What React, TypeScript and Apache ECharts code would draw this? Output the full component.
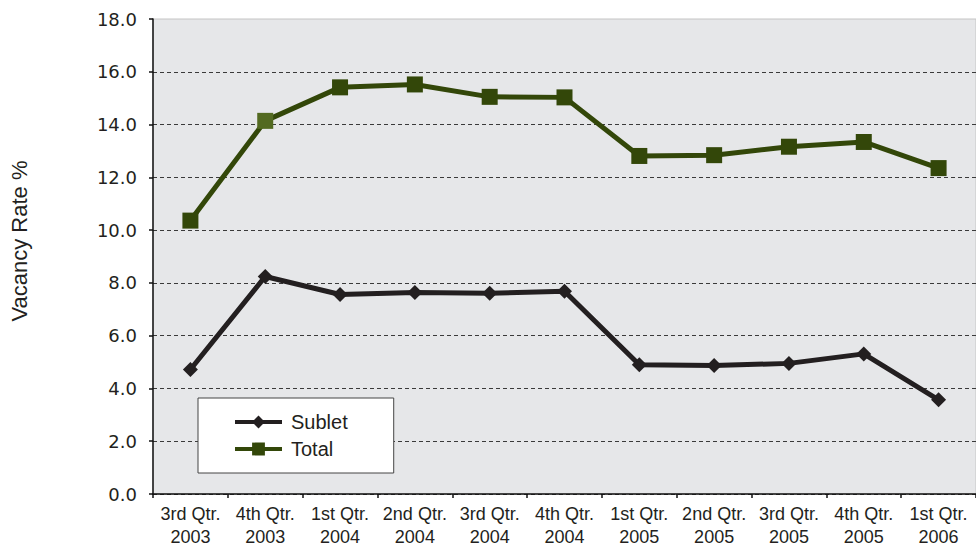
import React, { useEffect, useRef } from "react";
import * as echarts from "echarts";

const categories = [
  "3rd Qtr.\n2003", "4th Qtr.\n2003", "1st Qtr.\n2004", "2nd Qtr.\n2004",
  "3rd Qtr.\n2004", "4th Qtr.\n2004", "1st Qtr.\n2005", "2nd Qtr.\n2005",
  "3rd Qtr.\n2005", "4th Qtr.\n2005", "1st Qtr.\n2006",
];
const subletValues = [4.72, 8.24, 7.56, 7.64, 7.61, 7.68, 4.9, 4.87, 4.95, 5.31, 3.57];
const totalValues = [10.36, 14.14, 15.41, 15.52, 15.05, 15.03, 12.81, 12.84, 13.16, 13.34, 12.35];
const highlightIndex = 1;

export default function App() {
  const ref = useRef<HTMLDivElement>(null);
  useEffect(() => {
    const chart = echarts.init(ref.current!, null, { renderer: "svg" });
    const gridColors = ["#3a3a3a", "#3a3a3a", "#3a3a3a", "#3a3a3a", "#3a3a3a", "#3a3a3a", "#3a3a3a", "#3a3a3a", "#3a3a3a", "transparent"];
    chart.setOption({
      animation: false,
      backgroundColor: "#ffffff",
      grid: {
        left: 153,
        top: 19,
        width: 825,
        height: 475,
        show: true,
        backgroundColor: "#e6e7e9",
        borderWidth: 1,
        borderColor: "#c4c4c4",
      },
      legend: {
        orient: "vertical",
        left: 198,
        top: 398,
        padding: [14, 46, 14, 35],
        backgroundColor: "#ffffff",
        borderColor: "#444444",
        borderWidth: 1,
        itemWidth: 47,
        itemHeight: 16,
        itemGap: 7,
        lineStyle: { width: 4 },
        textStyle: { fontFamily: "Liberation Sans", fontSize: 20, color: "#231f20", lineHeight: 18, padding: [0, 0, 0, 4] },
        data: ["Sublet", "Total"],
      },
      xAxis: {
        type: "category",
        data: categories,
        boundaryGap: true,
        axisLine: { lineStyle: { color: "#111111", width: 1.5 } },
        axisTick: { show: true, length: 4, lineStyle: { color: "#111111", width: 1.5 } },
        axisLabel: {
          fontFamily: "Liberation Sans",
          fontSize: 18,
          color: "#231f20",
          lineHeight: 23,
          margin: 8,
          interval: 0,
        },
        splitLine: { show: false },
      },
      yAxis: {
        type: "value",
        min: 0,
        max: 18,
        interval: 2,
        axisLine: { show: true, lineStyle: { color: "#111111", width: 1.5 } },
        axisTick: { show: true, length: 4, lineStyle: { color: "#111111", width: 1.5 } },
        axisLabel: {
          fontFamily: "DejaVu Sans",
          fontSize: 18,
          color: "#231f20",
          margin: 16,
          formatter: (v: number) => v.toFixed(1),
        },
        splitLine: {
          show: true,
          lineStyle: { color: gridColors, type: [4, 3], width: 1 },
        },
      },
      graphic: [
        {
          type: "text",
          x: 19,
          y: 241,
          rotation: Math.PI / 2,
          style: {
            text: "Vacancy Rate %",
            fontFamily: "Liberation Sans",
            fontSize: 22,
            fill: "#231f20",
            textAlign: "center",
            textVerticalAlign: "middle",
          },
        },
      ],
      series: [
        {
          name: "Sublet",
          type: "line",
          data: subletValues,
          symbol: "diamond",
          symbolSize: 15,
          lineStyle: { color: "#231f20", width: 5 },
          itemStyle: { color: "#231f20" },
          z: 3,
        },
        {
          name: "Total",
          type: "line",
          data: totalValues.map((v, i) =>
            i === highlightIndex ? { value: v, itemStyle: { color: "#536a21" } } : v
          ),
          symbol: "rect",
          symbolSize: 16,
          lineStyle: { color: "#334709", width: 5 },
          itemStyle: { color: "#334709" },
          z: 3,
        },
      ],
    });
    return () => chart.dispose();
  }, []);
  return <div ref={ref} style={{ width: 976, height: 548, position: "absolute", left: 0, top: 0 }} />;
}
